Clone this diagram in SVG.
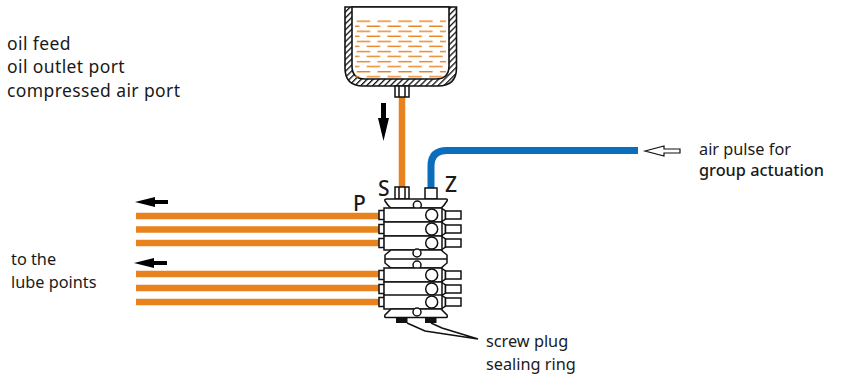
<svg xmlns="http://www.w3.org/2000/svg" width="841" height="379" viewBox="0 0 841 379">
<style>
text{font-family:"Noto Sans","Open Sans",sans-serif;fill:#1a1a1a}
.l{font-size:17.500px;letter-spacing:.4px}
.t{font-size:16.300px}
.m{font-size:16.300px;font-weight:500}
.b{font-size:21px;font-weight:500}
.k{fill:#fff;stroke:#111;stroke-width:1.5}
.n{fill:none;stroke:#111;stroke-width:1.5}
.o{fill:none;stroke:#e8821e;stroke-width:6.500}
</style>
<defs>
<pattern id="hatch" width="4.200" height="4.200" patternUnits="userSpaceOnUse" patternTransform="rotate(-45)">
<rect width="4.200" height="4.200" fill="#fff"/><rect width="4.200" height="1.300" fill="#111"/>
</pattern>
<pattern id="oil" x="356.700" y="20.500" width="20.800" height="10.100" patternUnits="userSpaceOnUse">
<path d="M0 .7H13.500M-10.800 5.700H2.700M10 5.700H23.500" stroke="#e8821e" stroke-width="1.300" fill="none"/>
</pattern>
<g id="blk"><rect class="k" x="379" y="-4.500" width="5.500" height="9"/><rect class="k" x="384" y="-7" width="58" height="14"/><path class="n" d="M442 -6.500L445.500 -4V4L442 6.500"/><rect class="k" x="445.500" y="-4" width="15.500" height="8"/><circle class="k" cx="431.700" cy="0" r="6"/></g>
</defs>
<g id="connectors">
<path class="o" d="M402 97V188"/>
<path fill="none" stroke="#0a6ebd" stroke-width="7" d="M431 188V166Q431 150.500 447 150.500H638"/>
<path class="o" d="M136 216H380M136 229.500H380M136 243H380M136 274H380M136 288H380M136 302H380"/>
</g>
<g id="tank">
<path fill="url(#hatch)" stroke="#111" stroke-width="1.600" d="M345 7H456.500V68Q456.500 86 438 86H363Q345 86 345 68Z"/>
<path fill="#fff" stroke="#111" stroke-width="1.600" d="M352 7H449V66Q449 79 436 79H365Q352 79 352 66Z"/>
<rect x="355" y="20" width="91" height="58" fill="url(#oil)"/>
<path class="k" d="M395 86H409V97H395Z"/><path class="n" d="M399 86V97M405 86V97"/>
</g>
<g id="arrow-down"><path fill="#000" d="M381 103H386V118H389L383.500 141L378 118H381Z"/></g>
<g id="arrow-air"><path fill="#fff" stroke="#111" stroke-width="1.200" d="M645 151L664 146V149H680V153H664V156Z"/></g>
<g id="arrow-left-1"><path fill="#000" d="M135 202L155 197V200H168V204H155V207Z"/></g>
<g id="arrow-left-2"><path fill="#000" d="M134 263L154 258V261H167V265H154V268Z"/></g>
<g id="valve">
<rect class="k" x="395" y="187" width="14" height="12"/><path class="n" d="M399 187V199M405 187V199"/>
<rect class="k" x="425" y="188" width="12" height="11"/>
<path class="k" d="M387 199H446Q448 199 447 201Q444 206 441 208H391Q388 206 385 201Q384 199 387 199Z"/><circle class="k" cx="417.300" cy="205" r="4"/>
<use href="#blk" y="215"/><use href="#blk" y="229"/><use href="#blk" y="243"/>
<path class="k" d="M391 250H441L447 255V263L441 268H391L385 263V255Z"/><path class="n" d="M385 259H447"/>
<circle class="k" cx="417" cy="253" r="4"/><circle class="k" cx="417" cy="265" r="4"/>
<use href="#blk" y="275"/><use href="#blk" y="289"/><use href="#blk" y="302"/>
<path class="k" d="M391 309H441L447 315Q448 317.500 446 317.500H386Q384 317.500 385 315Z"/><circle class="k" cx="417" cy="312" r="4"/>
<rect x="396" y="318" width="11.500" height="5" fill="#111"/><rect x="425" y="318" width="11.500" height="5" fill="#111"/>
<path class="n" d="M407 323L425 331L478 339M431 323L442 328L478 339"/>
</g>
<g id="labels">
<text class="l" x="7" y="50">oil feed</text>
<text class="l" x="7" y="73">oil outlet port</text>
<text class="l" x="7" y="97">compressed air port</text>
<text class="t" x="11" y="265">to the</text>
<text class="t" x="11" y="288">lube points</text>
<text class="t" x="699" y="155">air pulse for</text>
<text class="m" x="699" y="176">group actuation</text>
<text class="t" x="486" y="347">screw plug</text>
<text class="t" x="486" y="370">sealing ring</text>
<text class="b" x="378" y="196">S</text>
<text class="b" x="445" y="192">Z</text>
<text class="b" x="353" y="211">P</text>
</g>
</svg>
